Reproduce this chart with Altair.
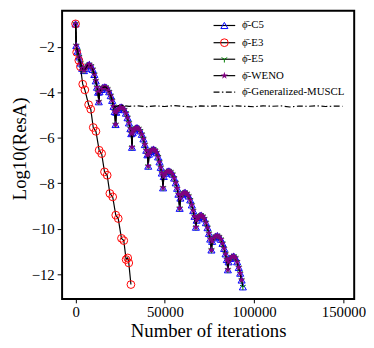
import altair as alt
import pandas as pd

# ---------------- data ----------------
c5_x = [0, 400, 1200, 2000, 2800, 3700, 4700, 5700, 6700, 7700, 8700, 9600, 10500, 11300, 12000, 12600, 13000,
        13400, 14300, 15200, 16100, 17000, 17900, 18800, 19700, 20500, 21300, 21900, 22400,
        22800, 23700, 24600, 25500, 26400, 27300, 28200, 29100, 29900, 30700, 31200, 31600,
        32000, 32800, 33600, 34400, 35300, 36200, 37100, 38000, 38800, 39600, 40200, 40700,
        41100, 41900, 42800, 43700, 44600, 45400, 46200, 47000, 47700, 48300, 49000,
        49400, 50300, 51300, 52300, 53300, 54300, 55200, 56100, 56900, 57600, 58300,
        58700, 59600, 60400, 61300, 62300, 63300, 64200, 65100, 65900, 66600, 67400,
        67800, 68600, 69500, 70300, 71200, 72100, 73000, 73900, 74700, 75400, 76100,
        76500, 77400, 78400, 79400, 80400, 81400, 82300, 83200, 84000, 84700, 85300,
        85700, 86600, 87600, 88600, 89600, 90500, 91400, 92200, 93000, 93700]
c5_y = [-1.0, -1.95, -2.2, -2.45, -2.72, -2.95, -3.05, -2.95, -2.82, -2.78, -2.85, -3.0, -3.22, -3.5, -3.78, -4.0, -4.42,
        -3.98, -3.88, -3.8, -3.77, -3.78, -3.86, -3.98, -4.15, -4.36, -4.62, -4.85, -5.42,
        -4.88, -4.76, -4.68, -4.65, -4.68, -4.77, -4.92, -5.12, -5.35, -5.6, -5.82, -6.42,
        -5.78, -5.65, -5.58, -5.56, -5.6, -5.7, -5.85, -6.05, -6.3, -6.55, -6.75, -7.25,
        -6.72, -6.6, -6.53, -6.5, -6.55, -6.66, -6.84, -7.06, -7.3, -7.55, -8.2,
        -7.7, -7.56, -7.48, -7.46, -7.5, -7.6, -7.77, -7.98, -8.22, -8.48, -9.1,
        -8.65, -8.5, -8.43, -8.4, -8.45, -8.56, -8.73, -8.95, -9.2, -9.45, -9.93,
        -9.62, -9.5, -9.43, -9.4, -9.45, -9.56, -9.73, -9.95, -10.2, -10.45, -10.93,
        -10.55, -10.4, -10.33, -10.3, -10.35, -10.46, -10.64, -10.86, -11.1, -11.35, -11.8,
        -11.45, -11.3, -11.23, -11.2, -11.28, -11.45, -11.7, -11.95, -12.25, -12.55]

e3_x = [0, 600, 1800, 2700, 4000, 5200, 7300, 8500, 9900, 11400, 13200, 14600, 16200, 17700,
        19200, 20800, 22500, 23900, 25700, 27000, 28300, 29200, 29800, 31000]
e3_y = [-1.0, -2.25, -2.6, -2.88, -3.65, -3.9, -4.55, -4.75, -5.55, -5.72, -6.55, -6.7, -7.5, -7.65,
        -8.45, -8.6, -9.4, -9.55, -10.42, -10.52, -11.35, -11.28, -11.5, -12.45]

e5_x = c5_x
e5_y = c5_y

weno_x = c5_x[:-1]
weno_y = c5_y[:-1]

muscl_x = [0, 400, 1200, 2000, 2800, 3700, 4700, 5700, 6700, 7700, 8700, 9600, 10500, 11300, 12000, 12600, 13000,
           13400, 14300, 15200, 16100, 17000, 17900, 18800, 19700, 20500, 21300, 22200, 23500,
           26000, 30000, 35000, 40000, 45000, 50000, 55000, 60000, 65000, 70000, 75000, 80000,
           85000, 90000, 95000, 100000, 105000, 110000, 115000, 120000, 125000, 130000, 135000,
           140000, 145000, 149500]
muscl_y = [-1.0, -1.95, -2.2, -2.45, -2.72, -2.95, -3.05, -2.95, -2.82, -2.78, -2.85, -3.0, -3.22, -3.5, -3.78, -4.0, -4.42,
           -3.98, -3.88, -3.8, -3.77, -3.78, -3.86, -3.98, -4.15, -4.36, -4.62, -4.66, -4.6,
           -4.58, -4.62, -4.6, -4.64, -4.6, -4.63, -4.59, -4.62, -4.65, -4.6, -4.62, -4.6,
           -4.63, -4.6, -4.62, -4.64, -4.6, -4.62, -4.6, -4.65, -4.61, -4.62, -4.6,
           -4.63, -4.61, -4.62]

series_names = ["\u03d5\u0304-C5", "\u03d5\u0304-E3", "\u03d5\u0304-E5", "\u03d5\u0304-WENO",
                "\u03d5\u0304-Generalized-MUSCL"]

x_ticks = [0, 50000, 100000, 150000]
y_ticks = [-12, -10, -8, -6, -4, -2]

# ---------------- styling ----------------
FONT = "Liberation Serif"
W, H = 297, 293
X_DOMAIN = [-7550, 156050]
Y_DOMAIN = [-13.08, -0.423]

STAR = ("M0,-1L0.223,-0.307L0.951,-0.309L0.361,0.117L0.588,0.809L0,0.38L-0.588,0.809"
        "L-0.361,0.117L-0.951,-0.309L-0.223,-0.307Z")
TRI = "M0,0L0,1M0,0L-0.866,-0.5M0,0L0.866,-0.5"

styles = [
    dict(color="#0000ff", shape="triangle-up", size=52, filled=False),
    dict(color="#ff0000", shape="circle", size=62, filled=False),
    dict(color="#008000", shape=TRI, size=45, filled=False),
    dict(color="#800080", shape=STAR, size=60, filled=True),
    None,
]

xs = alt.Scale(domain=X_DOMAIN, nice=False, zero=False)
ys = alt.Scale(domain=Y_DOMAIN, nice=False, zero=False)

x_axis = alt.Axis(values=x_ticks, format="d", title="Number of iterations", grid=False, domain=False,
                  labelFont=FONT, labelFontSize=15, labelColor="black", labelPadding=2,
                  tickColor="black", tickSize=4, tickWidth=1,
                  titleFont=FONT, titleFontSize=19, titleFontWeight="normal", titleColor="black",
                  titleY=38, titleBaseline="alphabetic")
y_axis = alt.Axis(values=y_ticks, format="d", title="Log10(ResA)", grid=False, domain=False,
                  labelFont=FONT, labelFontSize=15, labelColor="black", labelPadding=3,
                  tickColor="black", tickSize=5, tickWidth=1,
                  titleFont=FONT, titleFontSize=19, titleFontWeight="normal", titleColor="black",
                  titleX=-37, titleY=140, titleBaseline="alphabetic")

series_data = [(c5_x, c5_y), (e3_x, e3_y), (e5_x, e5_y), (weno_x, weno_y), (muscl_x, muscl_y)]

layers = []
for k, ((sx, sy), name, st) in enumerate(zip(series_data, series_names, styles)):
    df = pd.DataFrame({"x": sx, "y": sy, "i": list(range(len(sx)))})
    xenc = alt.X("x:Q", scale=xs, axis=x_axis)
    yenc = alt.Y("y:Q", scale=ys, axis=y_axis)
    if st is None:
        line = alt.Chart(df).mark_line(color="black", strokeWidth=1.2, strokeDash=[6, 2.5, 1.5, 2.5])
    else:
        line = alt.Chart(df).mark_line(color="black", strokeWidth=1.2)
    layers.append(line.encode(x=xenc, y=yenc, order="i:Q"))
    if st is not None:
        pt = alt.Chart(df).mark_point(shape=st["shape"], size=st["size"], filled=st["filled"],
                                      color=st["color"], strokeWidth=1, opacity=1)
        layers.append(pt.encode(x=xenc, y=yenc))

# ---------------- legend (manual, pixel layout) ----------------
LEG_X1, LEG_X2, LEG_XM, LEG_XT = 154, 176, 165, 183
LEG_ROWS = [15, 32.5, 49.3, 66, 82.7]
for name, st, ry in zip(series_names, styles, LEG_ROWS):
    ldf = pd.DataFrame({"name": [name]})
    if st is None:
        rl = alt.Chart(ldf).mark_rule(color="black", strokeWidth=1.2, strokeDash=[6, 2.5, 1.5, 2.5])
    else:
        rl = alt.Chart(ldf).mark_rule(color="black", strokeWidth=1.2)
    layers.append(rl.encode(x=alt.value(LEG_X1), x2=alt.value(LEG_X2), y=alt.value(ry)))
    if st is not None:
        lp = alt.Chart(ldf).mark_point(shape=st["shape"], size=st["size"], filled=st["filled"],
                                       color=st["color"], strokeWidth=1, opacity=1)
        layers.append(lp.encode(x=alt.value(LEG_XM), y=alt.value(ry)))
    tx = alt.Chart(ldf).mark_text(align="left", baseline="middle", font=FONT, fontSize=11, color="black")
    layers.append(tx.encode(x=alt.value(LEG_XT), y=alt.value(ry), text="name:N"))

chart = alt.layer(*layers).properties(
    width=W, height=H,
    background="white",
    autosize=alt.AutoSizeParams(type="none"),
    padding={"left": 55, "top": 0, "right": 12, "bottom": 39},
).configure_view(stroke="black", strokeWidth=2)

chart.save("out.html", embed_options={"renderer": "svg", "actions": False})
